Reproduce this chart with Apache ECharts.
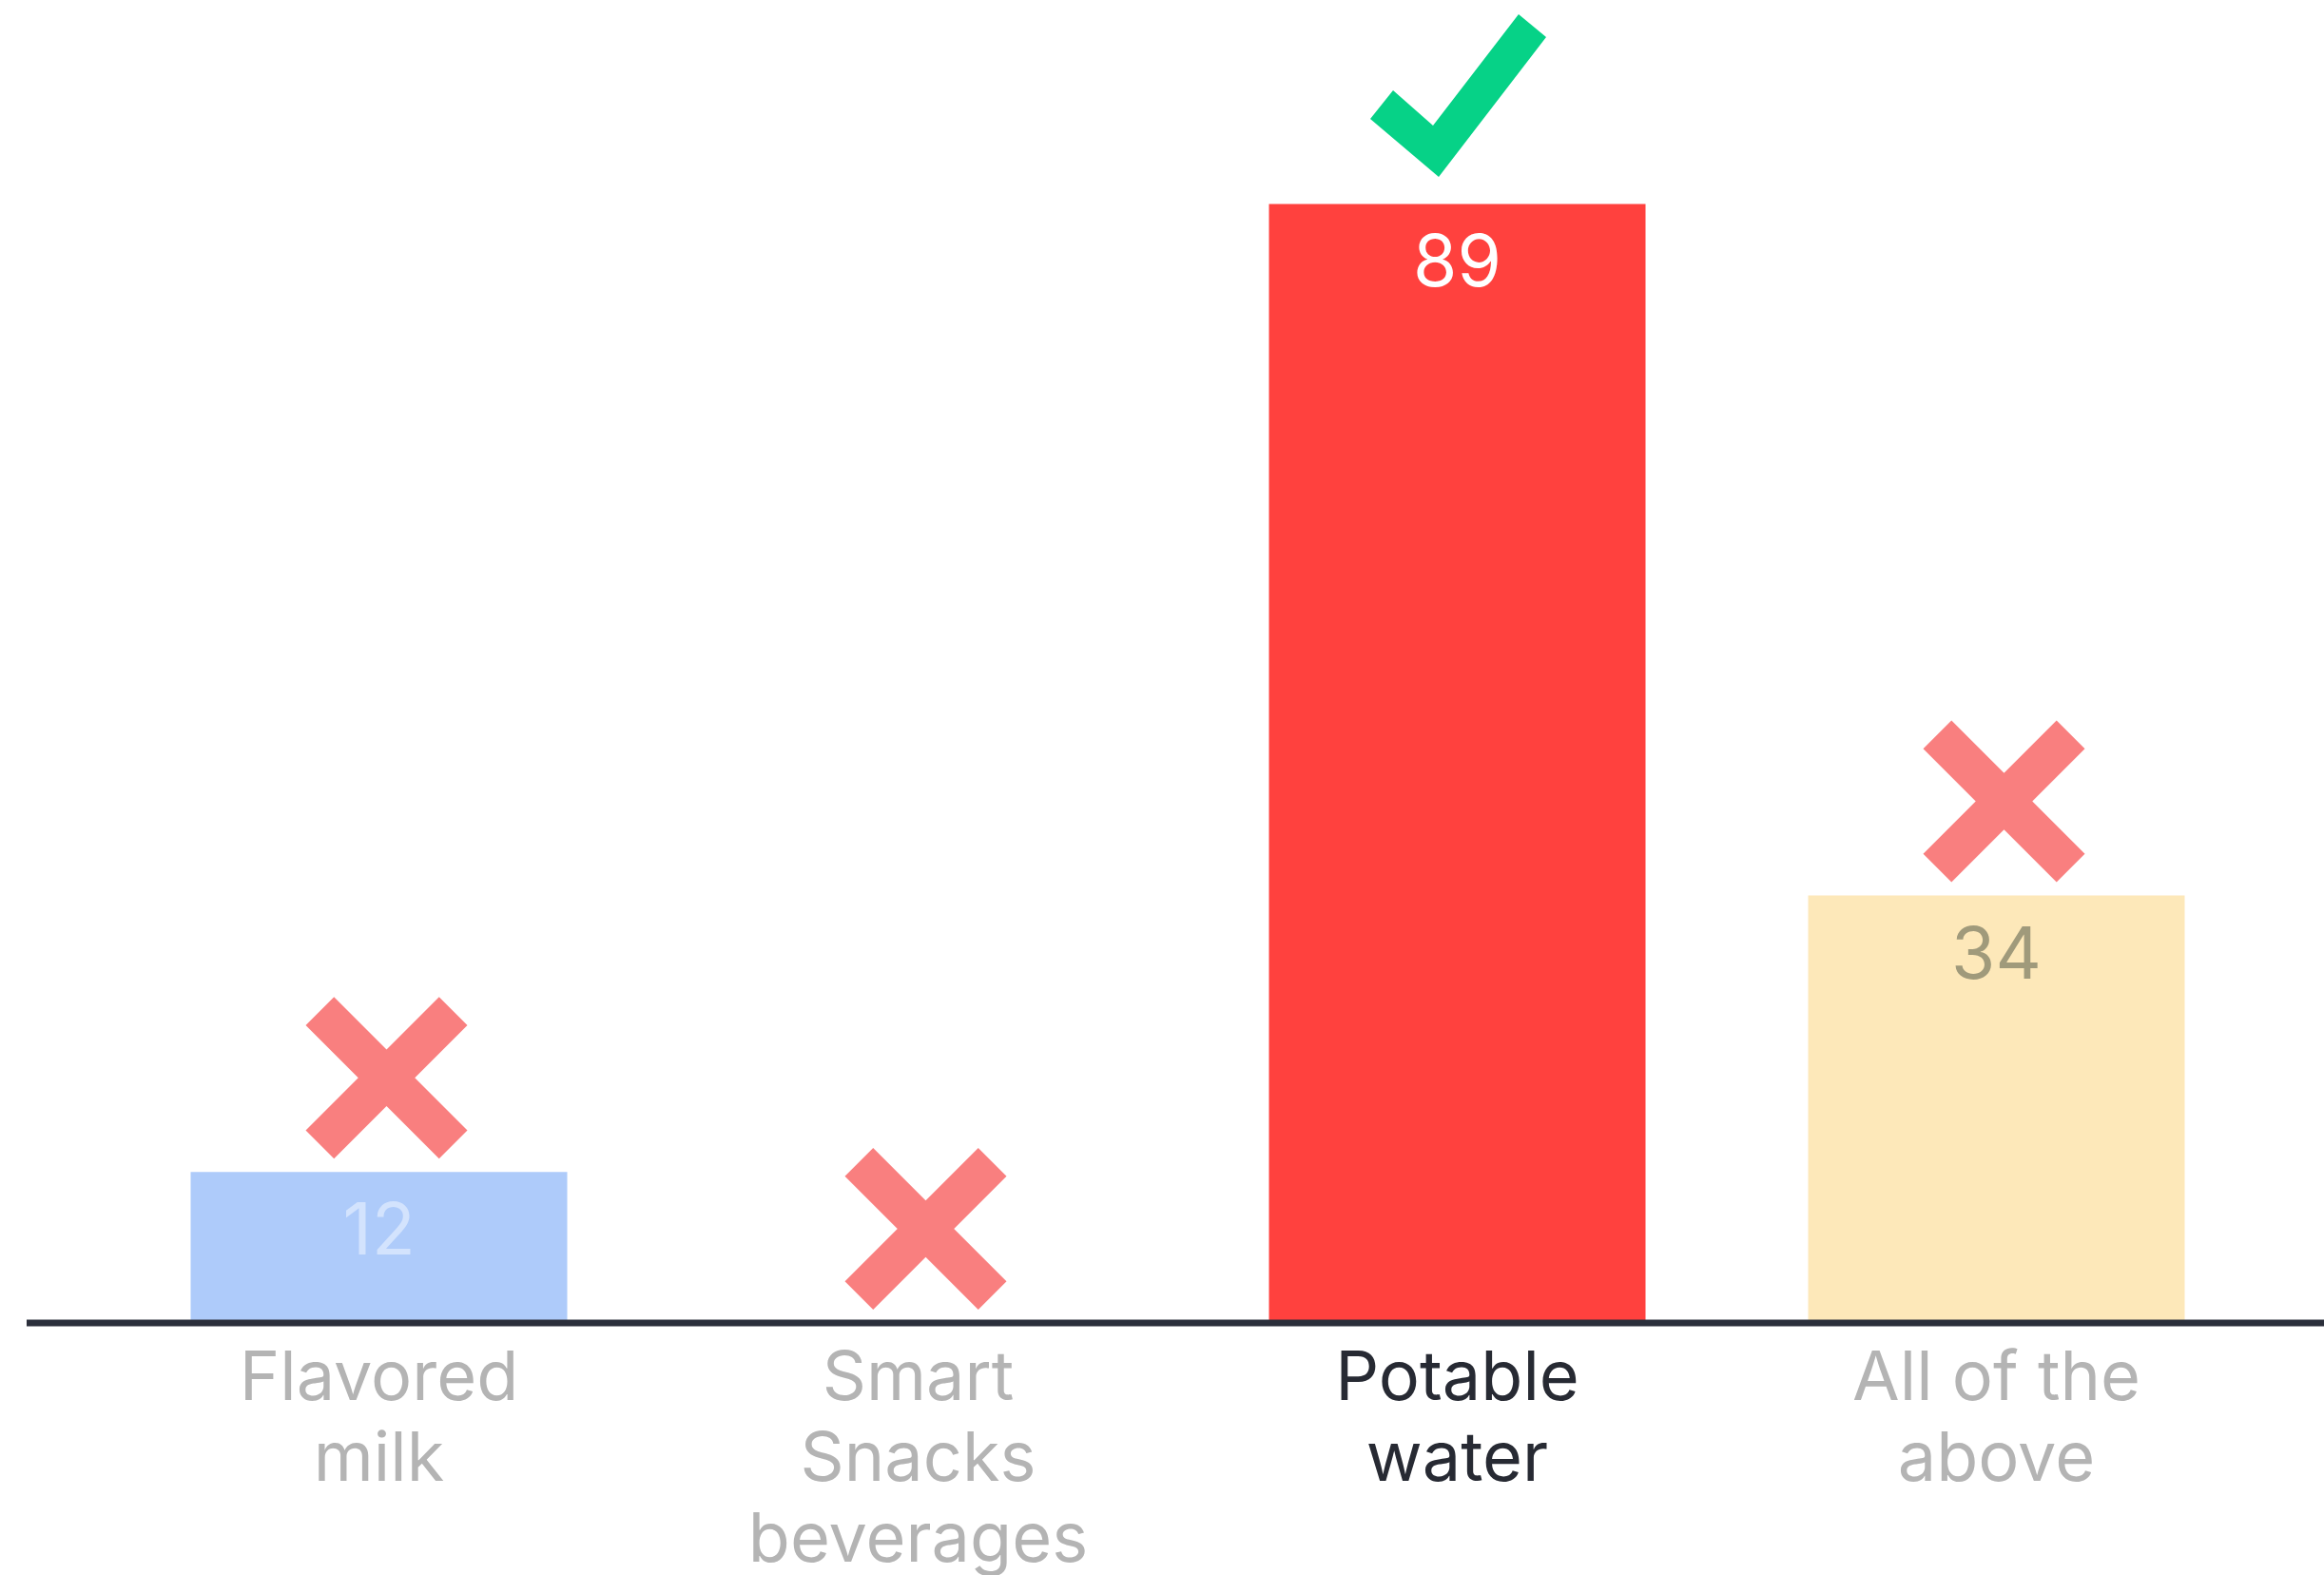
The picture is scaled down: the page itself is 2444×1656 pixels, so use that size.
<!DOCTYPE html>
<html>
<head>
<meta charset="utf-8">
<script src="https://cdn.jsdelivr.net/npm/echarts@6/dist/echarts.min.js"></script>
<style>
html,body{margin:0;padding:0;background:#fff;}
#chart{width:2444px;height:1656px;}
</style>
</head>
<body>
<div id="chart"></div>
<script>
const categories = ['Flavored\nmilk', 'Smart\nSnacks\nbeverages', 'Potable\nwater', 'All of the\nabove'];
const values = [12, 0, 89, 34];
const isCorrect = [false, false, true, false];
const barColors = ['#aecbfa', '#aecbfa', '#ff413e', '#fde8b9'];
const valueLabelColors = ['#d3e3fd', '#d3e3fd', '#ffffff', '#a09a7b'];
const catLabelColors = ['#b4b4b4', '#b4b4b4', '#272a33', '#b4b4b4'];

const X_PATH = 'path://M17.5,0 L50,32.5 L82.5,0 L100,17.5 L67.5,50 L100,82.5 L82.5,100 L50,67.5 L17.5,100 L0,82.5 L32.5,50 L0,17.5 Z';
const CHECK_PATH = 'path://M0,110 L24,80 L66,117 L156,0 L185,24 L72,171 Z';

const chart = echarts.init(document.getElementById('chart'));
const FONT = 'Inter, "Noto Sans", sans-serif';

const option = {
  backgroundColor: '#ffffff',
  animation: false,
  grid: { left: 115, right: 61, top: 69, bottom: 265, containLabel: false, outerBoundsMode: 'none' },
  xAxis: {
    type: 'category',
    data: categories.map((c, i) => ({ value: c, textStyle: { color: catLabelColors[i] } })),
    axisLine: { show: false },
    axisTick: { show: false },
    axisLabel: {
      interval: 0,
      margin: 17,
      fontFamily: FONT,
      fontSize: 72,
      lineHeight: 85,
      color: '#b4b4b4'
    }
  },
  yAxis: {
    type: 'value', min: 0, max: 100,
    show: false,
    splitLine: { show: false }
  },
  series: [
    {
      type: 'bar',
      barWidth: 396,
      data: values.map((v, i) => ({
        value: v,
        itemStyle: { color: barColors[i] },
        label: { color: valueLabelColors[i] }
      })),
      label: {
        show: true,
        position: 'insideTop',
        distance: 27,
        fontFamily: FONT,
        fontSize: 75,
        lineHeight: 75,
        formatter: p => (p.value > 0 ? String(p.value) : '')
      },
      z: 2
    },
    {
      type: 'scatter',
      data: values.map((v, i) => isCorrect[i] ? null : [i, v]).filter(d => d),
      symbol: X_PATH,
      symbolSize: 170,
      symbolOffset: [8, -99],
      itemStyle: { color: '#f97f7f', opacity: 1 },
      z: 3,
      silent: true
    },
    {
      type: 'scatter',
      data: values.map((v, i) => isCorrect[i] ? [i, v] : null).filter(d => d),
      symbol: CHECK_PATH,
      symbolSize: [185, 171],
      symbolOffset: [1, -114],
      itemStyle: { color: '#06d287', opacity: 1 },
      z: 3,
      silent: true
    }
  ]
};
chart.setOption(option);

const yBase = chart.convertToPixel({ yAxisIndex: 0 }, 0);
chart.setOption({
  graphic: [{
    type: 'line',
    shape: { x1: 28, y1: yBase, x2: 2444, y2: yBase },
    style: { stroke: '#2b2f3b', lineWidth: 7 },
    z: 10
  }]
});
</script>
</body>
</html>
